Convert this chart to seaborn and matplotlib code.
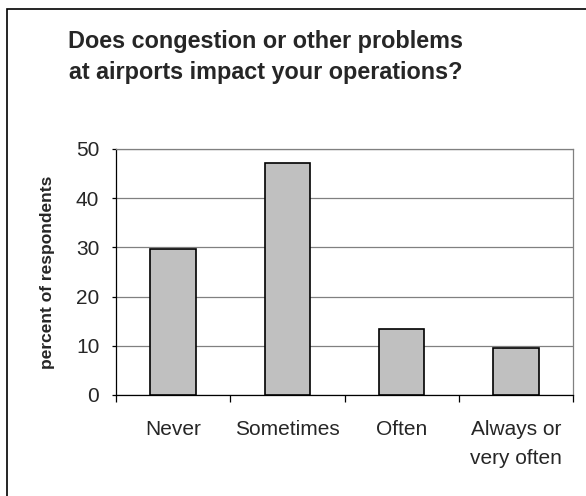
"""Excel-style survey bar chart: airport congestion impact."""

import matplotlib.pyplot as plt
import pandas as pd
import seaborn as sns
from matplotlib.patches import Rectangle

categories = ["Never", "Sometimes", "Often", "Always or\nvery often"]
percent = [29.6, 47.2, 13.4, 9.6]
y_ticks = [0, 10, 20, 30, 40, 50]

TITLE = "Does congestion or other problems\nat airports impact your operations?"
YLABEL = "percent of respondents"

sns.set_theme(style="white")
plt.rcParams.update(
    {
        "font.family": ["Liberation Sans", "DejaVu Sans"],
        "axes.linewidth": 0.9,
    }
)

df = pd.DataFrame({"answer": categories, "percent": percent})

fig = plt.figure(figsize=(5.86, 4.96), dpi=100)
ax = fig.add_axes([116 / 586, 1 - 395 / 496, (573 - 116) / 586, (395 - 149) / 496])

sns.barplot(
    data=df, x="answer", y="percent", color="#c0c0c0", width=0.4,
    edgecolor="black", linewidth=1.2, saturation=1, ax=ax, zorder=3,
)

ax.set_ylim(0, 50)
ax.set_xlim(-0.5, len(categories) - 0.5)
ax.set_yticks(y_ticks)
ax.yaxis.grid(True, color="#808080", linewidth=0.9)
ax.set_axisbelow(True)

for side in ["top", "right"]:
    ax.spines[side].set_color("#808080")
for side in ["left", "bottom"]:
    ax.spines[side].set_color("black")

ax.tick_params(axis="y", which="major", left=True, length=3, width=0.9, color="black",
               pad=9, labelsize=15)
ax.tick_params(axis="x", which="major", bottom=False, length=0, pad=18, labelsize=15)
ax.set_xticks([i - 0.5 for i in range(len(categories) + 1)], minor=True)
ax.tick_params(axis="x", which="minor", bottom=True, length=5, width=0.9, color="black")
for lbl in ax.get_xticklabels():
    lbl.set_linespacing(1.65)

ax.set_xlabel("")
ax.set_ylabel(YLABEL, fontsize=12.5, fontweight="bold")
ax.yaxis.set_label_coords(-(116 - 55) / 457, 0.5)

fig.text(266 / 586, 1 - 57 / 496, TITLE, ha="center", va="center", fontsize=16.8,
         fontweight="bold", linespacing=1.4)

fig.patches.append(Rectangle((7 / 586, -0.1), 1.2, 1 - 9 / 496 + 0.1, transform=fig.transFigure,
                             fill=False, edgecolor="black", linewidth=1.2))

fig.savefig("out.png", dpi=100)
